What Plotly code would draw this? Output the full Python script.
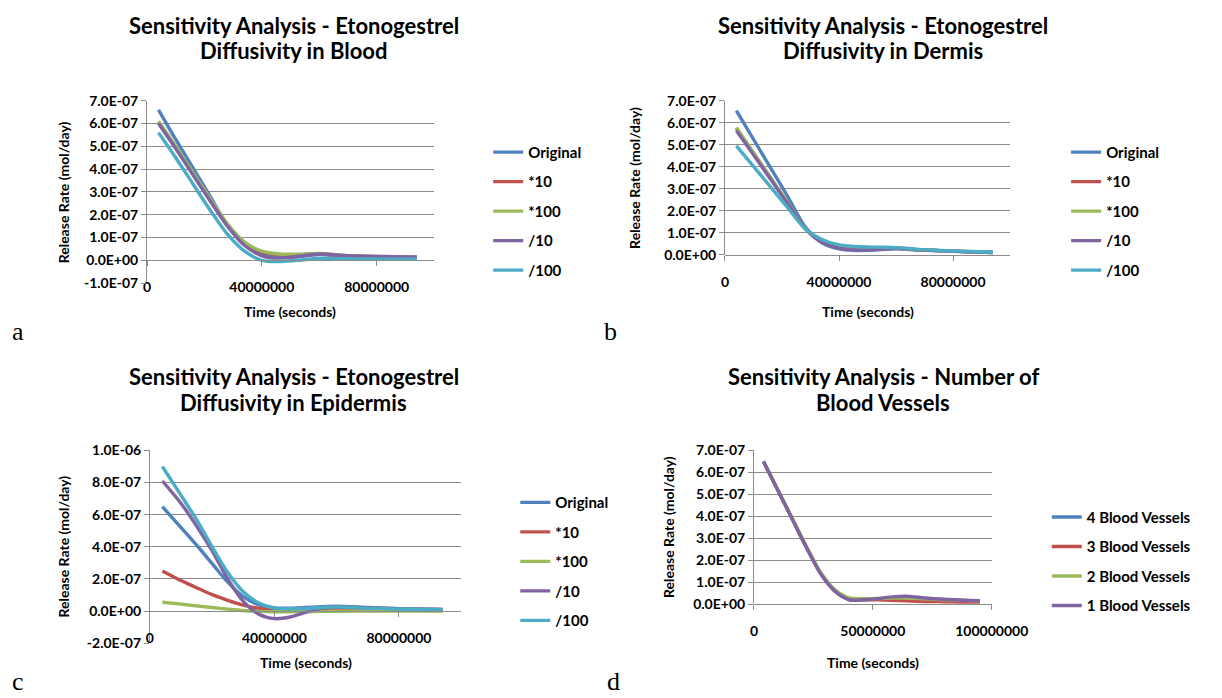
import plotly.graph_objects as go

# ---------------- data ----------------
series_names_abc = ["Original", "*10", "*100", "/10", "/100"]
series_names_d = ["4 Blood Vessels", "3 Blood Vessels", "2 Blood Vessels", "1 Blood Vessels"]

# Panel a: diffusivity in blood
time_a = [4e6, 10e6, 16e6, 22e6, 28e6, 34e6, 40e6, 46e6, 52e6, 60e6, 68e6, 78e6, 86e6, 94e6]
a_original = [6.6e-7, 5.3e-7, 4.05e-7, 2.8e-7, 1.55e-7, 0.7e-7, 0.3e-7, 0.14e-7, 0.15e-7, 0.25e-7, 0.2e-7, 0.15e-7, 0.13e-7, 0.12e-7]
a_x10 = [6.05e-7, 4.95e-7, 3.8e-7, 2.65e-7, 1.55e-7, 0.75e-7, 0.37e-7, 0.26e-7, 0.25e-7, 0.28e-7, 0.21e-7, 0.16e-7, 0.14e-7, 0.13e-7]
a_x100 = [6.1e-7, 5.0e-7, 3.85e-7, 2.7e-7, 1.6e-7, 0.8e-7, 0.4e-7, 0.28e-7, 0.27e-7, 0.3e-7, 0.22e-7, 0.17e-7, 0.15e-7, 0.14e-7]
a_d10 = [6.0e-7, 4.9e-7, 3.75e-7, 2.6e-7, 1.5e-7, 0.65e-7, 0.2e-7, 0.1e-7, 0.17e-7, 0.28e-7, 0.22e-7, 0.18e-7, 0.16e-7, 0.15e-7]
a_d100 = [5.6e-7, 4.5e-7, 3.35e-7, 2.2e-7, 1.15e-7, 0.4e-7, 0.0, -0.05e-7, 0.0, 0.08e-7, 0.07e-7, 0.06e-7, 0.05e-7, 0.05e-7]

# Panel b: diffusivity in dermis
time_b = [4e6, 10e6, 16e6, 22e6, 28e6, 34e6, 40e6, 46e6, 52e6, 60e6, 68e6, 78e6, 86e6, 94e6]
b_original = [6.55e-7, 5.25e-7, 3.95e-7, 2.65e-7, 1.3e-7, 0.55e-7, 0.27e-7, 0.2e-7, 0.22e-7, 0.28e-7, 0.22e-7, 0.17e-7, 0.13e-7, 0.1e-7]
b_x10 = [5.75e-7, 4.62e-7, 3.5e-7, 2.35e-7, 1.22e-7, 0.6e-7, 0.35e-7, 0.28e-7, 0.27e-7, 0.3e-7, 0.23e-7, 0.18e-7, 0.14e-7, 0.11e-7]
b_x100 = [5.78e-7, 4.64e-7, 3.5e-7, 2.36e-7, 1.22e-7, 0.6e-7, 0.35e-7, 0.28e-7, 0.27e-7, 0.3e-7, 0.23e-7, 0.18e-7, 0.14e-7, 0.11e-7]
b_d10 = [5.65e-7, 4.55e-7, 3.43e-7, 2.32e-7, 1.22e-7, 0.57e-7, 0.3e-7, 0.22e-7, 0.24e-7, 0.3e-7, 0.23e-7, 0.18e-7, 0.14e-7, 0.11e-7]
b_d100 = [4.95e-7, 4.02e-7, 3.08e-7, 2.14e-7, 1.2e-7, 0.7e-7, 0.45e-7, 0.38e-7, 0.35e-7, 0.33e-7, 0.25e-7, 0.19e-7, 0.15e-7, 0.12e-7]

# Panel c: diffusivity in epidermis
time_c = [4e6, 10e6, 15e6, 20e6, 25e6, 30e6, 35e6, 40e6, 45e6, 50e6, 55e6, 60e6, 70e6, 80e6, 94e6]
c_original = [6.5e-7, 5.2e-7, 4.1e-7, 2.95e-7, 1.8e-7, 0.9e-7, 0.38e-7, 0.2e-7, 0.18e-7, 0.22e-7, 0.27e-7, 0.3e-7, 0.22e-7, 0.15e-7, 0.1e-7]
c_x10 = [2.5e-7, 1.9e-7, 1.45e-7, 1.02e-7, 0.67e-7, 0.37e-7, 0.17e-7, 0.07e-7, 0.04e-7, 0.04e-7, 0.05e-7, 0.05e-7, 0.05e-7, 0.04e-7, 0.03e-7]
c_x100 = [0.55e-7, 0.43e-7, 0.32e-7, 0.22e-7, 0.12e-7, 0.03e-7, -0.02e-7, -0.04e-7, -0.04e-7, -0.03e-7, -0.02e-7, -0.01e-7, 0.0, 0.0, 0.0]
c_d10 = [8.1e-7, 6.7e-7, 5.3e-7, 3.75e-7, 2.0e-7, 0.6e-7, -0.2e-7, -0.47e-7, -0.37e-7, -0.08e-7, 0.17e-7, 0.25e-7, 0.2e-7, 0.15e-7, 0.1e-7]
c_d100 = [9.0e-7, 7.2e-7, 5.7e-7, 4.0e-7, 2.4e-7, 1.2e-7, 0.5e-7, 0.18e-7, 0.14e-7, 0.16e-7, 0.22e-7, 0.26e-7, 0.18e-7, 0.13e-7, 0.08e-7]

# Panel d: number of blood vessels
time_d = [4e6, 10e6, 16e6, 22e6, 28e6, 34e6, 40e6, 46e6, 52e6, 58e6, 64e6, 72e6, 80e6, 88e6, 95e6]
d_4 = [6.5e-7, 5.2e-7, 3.9e-7, 2.6e-7, 1.4e-7, 0.6e-7, 0.22e-7, 0.2e-7, 0.23e-7, 0.28e-7, 0.3e-7, 0.24e-7, 0.2e-7, 0.17e-7, 0.15e-7]
d_3 = [6.5e-7, 5.2e-7, 3.9e-7, 2.6e-7, 1.4e-7, 0.6e-7, 0.22e-7, 0.2e-7, 0.2e-7, 0.18e-7, 0.15e-7, 0.12e-7, 0.11e-7, 0.1e-7, 0.1e-7]
d_2 = [6.5e-7, 5.22e-7, 3.93e-7, 2.65e-7, 1.45e-7, 0.66e-7, 0.28e-7, 0.25e-7, 0.26e-7, 0.28e-7, 0.28e-7, 0.24e-7, 0.2e-7, 0.17e-7, 0.15e-7]
d_1 = [6.5e-7, 5.2e-7, 3.9e-7, 2.6e-7, 1.4e-7, 0.6e-7, 0.2e-7, 0.2e-7, 0.25e-7, 0.33e-7, 0.36e-7, 0.28e-7, 0.22e-7, 0.18e-7, 0.16e-7]

title_lines = [
    ["Sensitivity Analysis - Etonogestrel", "Diffusivity in Blood"],
    ["Sensitivity Analysis - Etonogestrel", "Diffusivity in Dermis"],
    ["Sensitivity Analysis - Etonogestrel", "Diffusivity in Epidermis"],
    ["Sensitivity Analysis - Number of", "Blood Vessels"],
]
panel_letters = ["a", "b", "c", "d"]
y_title = "Release Rate (mol/day)"
x_title = "Time (seconds)"

yticks_a = [-1e-7, 0, 1e-7, 2e-7, 3e-7, 4e-7, 5e-7, 6e-7, 7e-7]
yticklabels_a = ["-1.0E-07", "0.0E+00", "1.0E-07", "2.0E-07", "3.0E-07", "4.0E-07", "5.0E-07", "6.0E-07", "7.0E-07"]
yticks_b = [0, 1e-7, 2e-7, 3e-7, 4e-7, 5e-7, 6e-7, 7e-7]
yticklabels_b = ["0.0E+00", "1.0E-07", "2.0E-07", "3.0E-07", "4.0E-07", "5.0E-07", "6.0E-07", "7.0E-07"]
yticks_c = [-2e-7, 0, 2e-7, 4e-7, 6e-7, 8e-7, 1e-6]
yticklabels_c = ["-2.0E-07", "0.0E+00", "2.0E-07", "4.0E-07", "6.0E-07", "8.0E-07", "1.0E-06"]
yticks_d = yticks_b
yticklabels_d = yticklabels_b
xticks_abc = [0, 40000000, 80000000]
xticklabels_abc = ["0", "40000000", "80000000"]
xticks_d = [0, 50000000, 100000000]
xticklabels_d = ["0", "50000000", "100000000"]
x_max = 100000000

colors5 = ["#4F81BD", "#C0504D", "#9BBB59", "#8064A2", "#4BACC6"]

# ---------------- layout geometry (pixels) ----------------
W, H = 1222, 698
def px_x(p):
    return p / W
def px_y(p):
    return 1 - p / H

def bold(s):
    return "<b>" + s + "</b>"

panels = [
    dict(time=time_a, ys=[a_original, a_x10, a_x100, a_d10, a_d100], names=series_names_abc,
         xl=148, xr=445, yt=94, yb=281, yr=[-1e-7, 7e-7], yt_vals=yticks_a, yt_text=yticklabels_a,
         xt_vals=xticks_abc, xt_text=xticklabels_abc, title_x=300, title_y=(17, 43), ytitle_xy=(62, 188),
         xtitle_xy=(296, 310), letter_xy=(15, 331), legend_xy=(501, 130)),
    dict(time=time_b, ys=[b_original, b_x10, b_x100, b_d10, b_d100], names=series_names_abc,
         xl=746, xr=1041, yt=94, yb=252, yr=[0, 7e-7], yt_vals=yticks_b, yt_text=yticklabels_b,
         xt_vals=xticks_abc, xt_text=xticklabels_abc, title_x=910, title_y=(17, 43), ytitle_xy=(653, 173),
         xtitle_xy=(894, 310), letter_xy=(628, 331), legend_xy=(1099, 130)),
    dict(time=time_c, ys=[c_original, c_x10, c_x100, c_d10, c_d100], names=series_names_abc,
         xl=151, xr=473, yt=452.5, yb=650, yr=[-2e-7, 1e-6], yt_vals=yticks_c, yt_text=yticklabels_c,
         xt_vals=xticks_abc, xt_text=xticklabels_abc, title_x=300, title_y=(377, 403), ytitle_xy=(62, 551),
         xtitle_xy=(312, 670), letter_xy=(15, 689), legend_xy=(529, 489)),
    dict(time=time_d, ys=[d_4, d_3, d_2, d_1], names=series_names_d,
         xl=776, xr=1022, yt=452.5, yb=610, yr=[0, 7e-7], yt_vals=yticks_d, yt_text=yticklabels_d,
         xt_vals=xticks_d, xt_text=xticklabels_d, title_x=910, title_y=(377, 403), ytitle_xy=(687, 531),
         xtitle_xy=(899, 670), letter_xy=(631, 689), legend_xy=(1079, 504)),
]

FONT = "Lato"
grid_col = "#8C8C8C"
tickfont = dict(family=FONT, size=14, color="black", weight="bold")

fig = go.Figure()
layout = dict(
    width=W, height=H, margin=dict(l=0, r=0, t=0, b=0),
    paper_bgcolor="white", plot_bgcolor="white",
    font=dict(family=FONT, color="black"),
    annotations=[],
)

for i, p in enumerate(panels):
    n = "" if i == 0 else str(i + 1)
    xa, ya = "x" + n, "y" + n
    lg = "legend" + n
    for j, (name, ys) in enumerate(zip(p["names"], p["ys"])):
        fig.add_trace(go.Scatter(
            x=p["time"], y=ys, name=bold(name), mode="lines",
            line=dict(color=colors5[j], width=3.4, shape="spline", smoothing=0.8),
            xaxis=xa, yaxis=ya, legend=lg, legendgroup=f"{i}-{j}",
        ))
    ydom = [px_y(p["yb"]), px_y(p["yt"])]
    y0, y1 = p["yr"]
    zero_pos = ydom[0] + (0 - y0) / (y1 - y0) * (ydom[1] - ydom[0])
    layout["xaxis" + n] = dict(
        domain=[px_x(p["xl"]), px_x(p["xr"])], range=[0, x_max],
        anchor="free", position=zero_pos, showgrid=False, zeroline=False,
        showline=True, linecolor=grid_col, linewidth=1,
        ticks="outside", ticklen=5, tickcolor=grid_col,
        tickvals=p["xt_vals"], ticktext=[bold(t) for t in p["xt_text"]], tickfont=tickfont,
        ticklabelstandoff=9, fixedrange=True,
    )
    layout["yaxis" + n] = dict(
        domain=ydom, range=p["yr"], anchor=xa,
        showgrid=True, gridcolor=grid_col, gridwidth=1, zeroline=False,
        showline=True, linecolor=grid_col, linewidth=1,
        ticks="outside", ticklen=5, tickcolor=grid_col,
        tickvals=p["yt_vals"], ticktext=[bold(t) for t in p["yt_text"]], tickfont=tickfont,
        fixedrange=True,
    )
    lx, ly = p["legend_xy"]
    layout[lg] = dict(
        x=px_x(lx), y=px_y(ly), xanchor="left", yanchor="top",
        font=dict(family=FONT, size=15, color="black", weight="bold"),
        tracegroupgap=7, bgcolor="rgba(0,0,0,0)", itemwidth=30,
    )
    for k, line in enumerate(title_lines[i]):
        layout["annotations"].append(dict(
            text=bold(line), x=px_x(p["title_x"]), y=px_y(p["title_y"][k]), xref="paper", yref="paper",
            showarrow=False, xanchor="center", yanchor="middle",
            font=dict(family=FONT, size=22, color="black", weight="bold"),
        ))
    yx, yy = p["ytitle_xy"]
    layout["annotations"].append(dict(
        text=bold(y_title), x=px_x(yx), y=px_y(yy), xref="paper", yref="paper",
        showarrow=False, xanchor="center", yanchor="middle", textangle=-90,
        font=dict(family=FONT, size=14, color="black", weight="bold"),
    ))
    xx, xy = p["xtitle_xy"]
    layout["annotations"].append(dict(
        text=bold(x_title), x=px_x(xx), y=px_y(xy), xref="paper", yref="paper",
        showarrow=False, xanchor="center", yanchor="middle",
        font=dict(family=FONT, size=14, color="black", weight="bold"),
    ))
    lx2, ly2 = p["letter_xy"]
    layout["annotations"].append(dict(
        text=panel_letters[i], x=px_x(lx2), y=px_y(ly2), xref="paper", yref="paper",
        showarrow=False, xanchor="center", yanchor="middle",
        font=dict(family="Liberation Serif", size=26, color="black"),
    ))

fig.update_layout(**layout)
fig.write_html("out.html")
